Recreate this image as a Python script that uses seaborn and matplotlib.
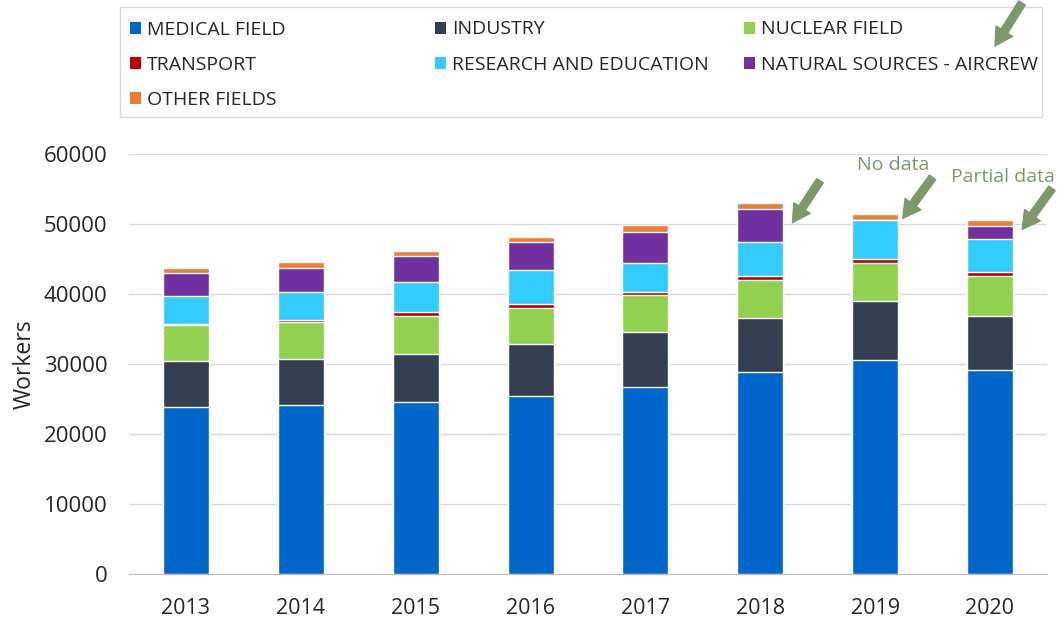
import matplotlib
matplotlib.use("Agg")
import matplotlib.pyplot as plt
from matplotlib.patches import Patch, Rectangle, FancyArrowPatch
import numpy as np
import pandas as pd
import seaborn as sns

# values (workers per year)
years = ["2013", "2014", "2015", "2016", "2017", "2018", "2019", "2020"]
medical = [23800, 24200, 24600, 25500, 26700, 28800, 30600, 29100]
industry = [6570, 6570, 6810, 7290, 7940, 7710, 8470, 7810]
nuclear = [5200, 5190, 5470, 5200, 5200, 5530, 5340, 5610]
transport = [200, 390, 530, 570, 470, 570, 660, 670]
research = [4000, 3940, 4290, 4800, 4100, 4810, 5530, 4710]
aircrew = [3250, 3490, 3710, 4100, 4470, 4710, 0, 1860]
other = [710, 760, 710, 710, 960, 940, 760, 760]

series_names = ["MEDICAL FIELD", "INDUSTRY", "NUCLEAR FIELD", "TRANSPORT",
                "RESEARCH AND EDUCATION", "NATURAL SOURCES - AIRCREW", "OTHER FIELDS"]
series_vals = [medical, industry, nuclear, transport, research, aircrew, other]
colors = ["#0066cc", "#333f50", "#92d050", "#c00000", "#33ccff", "#7030a0", "#ed7d31"]

GREEN = "#7f986b"
TXT = "#262626"

sns.set_style("white")
plt.rcParams["font.family"] = ["Open Sans", "DejaVu Sans"]

df = pd.DataFrame(dict(zip(series_names, series_vals)), index=years)
cum = df.cumsum(axis=1)

W, H = 1058, 620
fig = plt.figure(figsize=(W / 100, H / 100), dpi=100)
ax = fig.add_axes([0.1215, 0.0742, 0.8685, 0.6774])

# draw cumulative totals from the top series down so they stack visually
for name, col in reversed(list(zip(series_names, colors))):
    sns.barplot(x=years, y=cum[name].values, color=col, width=0.4,
                saturation=1, ax=ax, zorder=2)

ax.set_xlim(-0.5, 7.5)
ax.set_ylim(0, 60000)
ax.set_yticks(range(0, 60001, 10000))
ax.yaxis.grid(True, color="#d9d9d9", lw=1, zorder=0)
ax.set_axisbelow(True)
for s in ["top", "right", "left"]:
    ax.spines[s].set_visible(False)
ax.spines["bottom"].set_color("#bfbfbf")
ax.tick_params(axis="both", length=0, colors=TXT)
ax.tick_params(axis="y", pad=15, labelsize=16)
ax.tick_params(axis="x", pad=17, labelsize=15.5)
ax.set_ylabel("Workers", fontsize=16.5, color=TXT)
ax.yaxis.set_label_coords(-0.1, 0.5)
ax.set_xlabel("")

# legend frame + three columns laid out like the original (row-wise order)
fig.add_artist(Rectangle((120 / W, 1 - 117 / H), 922 / W, 110 / H,
                         transform=fig.transFigure, fill=False,
                         edgecolor="#d9d9d9", lw=1, zorder=1))
handles = [Patch(facecolor=c, edgecolor="none") for c in colors]
columns = [([0, 3, 6], 130, 65), ([1, 4], 435, 47), ([2, 5], 744, 47)]
for idx, x_px, y_px in columns:
    leg = fig.legend([handles[i] for i in idx], [series_names[i] for i in idx],
                     loc="center left", bbox_to_anchor=(x_px / W, 1 - y_px / H),
                     frameon=False, borderpad=0, borderaxespad=0,
                     handlelength=0.57, handleheight=0.57, handletextpad=0.3,
                     labelspacing=0.88, fontsize=14)
    for t in leg.get_texts():
        t.set_color(TXT)

arrow = dict(arrowstyle="simple,head_length=0.9,head_width=1.0,tail_width=0.4",
             color=GREEN, mutation_scale=14, shrinkA=0, shrinkB=0)
totals = cum[series_names[-1]].values

# 2018: arrow only
ax.annotate("", xy=(5.28, totals[5] - 2880), xytext=(5.52, totals[5] + 3120),
            arrowprops=arrow, annotation_clip=False)
# 2019: no data
ax.annotate("", xy=(6.24, totals[6] - 550), xytext=(6.50, totals[6] + 5310),
            arrowprops=arrow, annotation_clip=False)
ax.text(6.16, totals[6] + 7070, "No data", color=GREEN, fontsize=14,
        ha="center", va="center")
# 2020: partial data
ax.annotate("", xy=(7.28, totals[7] - 1280), xytext=(7.54, totals[7] + 4580),
            arrowprops=arrow, annotation_clip=False)
ax.text(7.11, totals[7] + 6240, "Partial data", color=GREEN, fontsize=14,
        ha="center", va="center")

# arrow pointing at the aircrew legend entry
fig.add_artist(FancyArrowPatch((1022 / W, 1 - 3 / H), (995 / W, 1 - 46 / H),
                               transform=fig.transFigure, zorder=10,
                               arrowstyle=arrow["arrowstyle"], color=GREEN,
                               mutation_scale=14, shrinkA=0, shrinkB=0))

fig.savefig("out.png", dpi=100)
